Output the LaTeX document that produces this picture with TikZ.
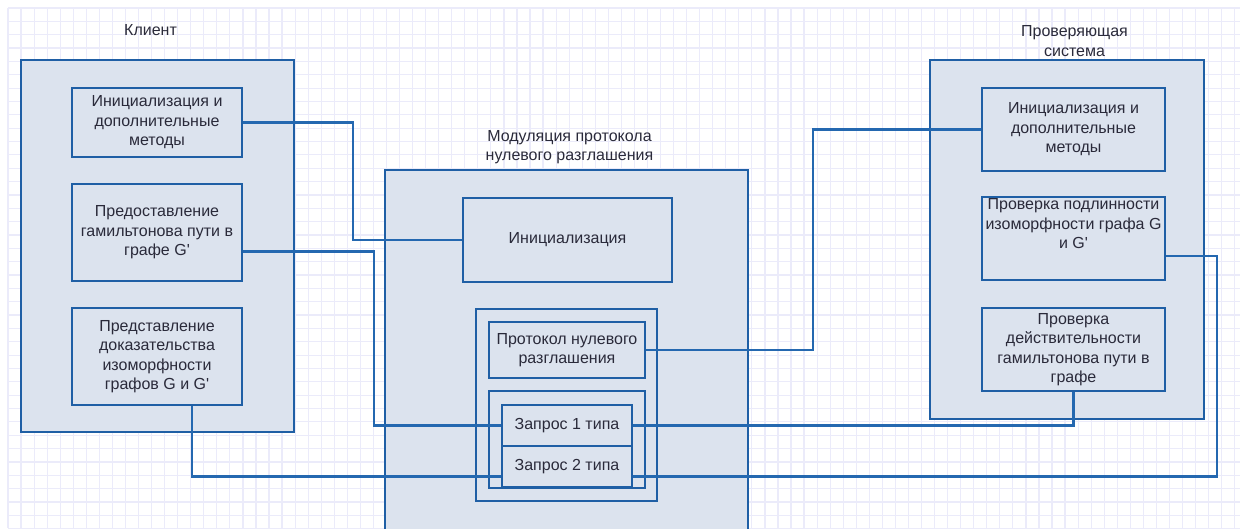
\documentclass[tikz,border=0pt]{standalone}
\usepackage{fontspec}
\newfontfamily\lsans{Liberation Sans}
\definecolor{boxblue}{HTML}{1F5FA5}
\definecolor{linkblue}{HTML}{2468B0}
\definecolor{boxfill}{HTML}{DCE3EE}
\definecolor{gridcol}{HTML}{EBEBFA}
\definecolor{txtcol}{HTML}{2A2A3A}
\begin{document}
\begin{tikzpicture}[x=1pt, y=-1pt,
	font=\lsans\fontsize{16}{19.5}\selectfont, text=txtcol,
	outer/.style={draw=boxblue, fill=boxfill, line width=2.8pt},
	inbox/.style={draw=boxblue, fill=boxfill, line width=2.5pt, align=center, inner sep=0pt},
	frame/.style={draw=boxblue, line width=2.5pt},
	title/.style={align=center, inner sep=0pt},
	link/.style={draw=linkblue, line width=2.4pt}]
	\useasboundingbox (0,0) rectangle (1240,528);
	\clip (0,0) rectangle (1240,528);
	% background grid
	\foreach \i in {0,...,94}
		\draw[gridcol, line width=1.2pt] ({8+13.05*\i},8) -- ({8+13.05*\i},528);
	\foreach \j in {0,...,39}
		\draw[gridcol, line width=1.2pt] (8,{8+13.35*\j}) -- (1240,{8+13.35*\j});
	% client
	\node[outer, minimum width=273pt, minimum height=372pt] (K) at (157.5,246) {};
	\node[title] (Kt) at (150.5,30) {Клиент};
	\node[inbox, minimum width=170pt, minimum height=69pt] (K1) at (157,122.5) {Инициализация и\\дополнительные\\методы};
	\node[inbox, minimum width=170pt, minimum height=97pt] (K2) at (157,232.5) {Предоставление\\гамильтонова пути в\\графе G'};
	\node[inbox, minimum width=170pt, minimum height=97pt] (K3) at (157,356.5) {Представление\\доказательства\\изоморфности\\графов G и G'};
	% protocol module
	\node[outer, minimum width=363pt, minimum height=390pt] (M) at (566.5,365) {};
	\node[title] (Mt) at (569.5,147) {Модуляция протокола\\нулевого разглашения};
	\node[inbox, minimum width=209pt, minimum height=84pt] (I) at (567.5,240) {Инициализация};
	\node[frame, minimum width=181pt, minimum height=192pt] (F1) at (566.5,405) {};
	\node[inbox, minimum width=156pt, minimum height=56pt] (P) at (567,350) {Протокол нулевого\\разглашения};
	\node[frame, minimum width=156pt, minimum height=97pt] (F2) at (567,439.5) {};
	\node[inbox, minimum width=130pt, minimum height=41pt] (Q1) at (567,425.5) {Запрос 1 типа};
	\node[inbox, minimum width=130pt, minimum height=41pt] (Q2) at (567,466.5) {Запрос 2 типа};
	% verifier
	\node[outer, minimum width=274pt, minimum height=359pt] (V) at (1067,239.5) {};
	\node[title] (Vt) at (1074.5,41) {Проверяющая\\система};
	\node[inbox, minimum width=183pt, minimum height=83pt] (V1) at (1073.5,129.5) {Инициализация и\\дополнительные\\методы};
	\node[inbox, minimum width=183pt, minimum height=83pt] (V2) at (1073.5,238.5) {};
	\node[title, anchor=north] (V2t) at ([yshift=-3pt]V2.north) {Проверка подлинности\\изоморфности графа G\\и G'};
	\node[inbox, minimum width=183pt, minimum height=83pt] (V3) at (1073.5,349.5) {Проверка\\действительности\\гамильтонова пути в\\графе};
	% links
	\draw[link] (K1.east) -- ++(110,0) |- (I.west);
	\draw[link] ([yshift=-19pt]K2.east) -- ++(131,0) |- (Q1.west);
	\draw[link] ([xshift=35pt]K3.south) |- ([yshift=-10pt]Q2.west);
	\draw[link] (P.east) -- ++(167,0) |- (V1.west);
	\draw[link] (Q1.east) -| (V3.south);
	\draw[link] ([yshift=-10pt]Q2.east) -| ([xshift=51pt,yshift=-17.5pt]V2.east) -- ([yshift=-17.5pt]V2.east);
\end{tikzpicture}
\end{document}
